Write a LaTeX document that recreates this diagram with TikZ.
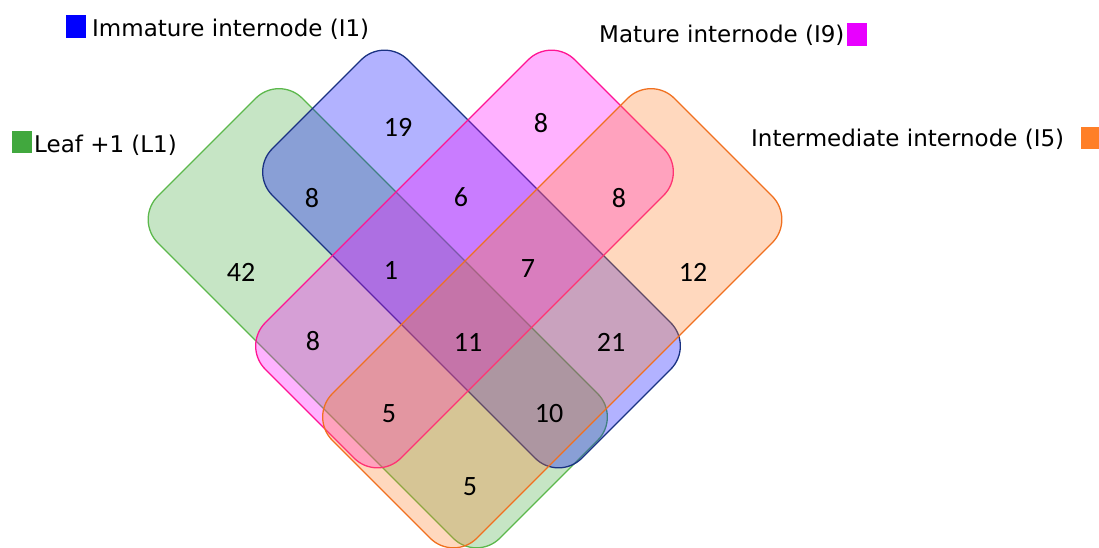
\documentclass[tikz,border=0pt]{standalone}
\usepackage{fontspec}
\setmainfont{DejaVu Sans}
\newfontfamily\numfont{Carlito}
\definecolor{gbase}{RGB}{65,168,62}
\definecolor{gline}{RGB}{92,184,76}
\definecolor{bbase}{RGB}{0,0,255}
\definecolor{bline}{RGB}{26,50,130}
\definecolor{pbase}{RGB}{255,0,255}
\definecolor{pline}{RGB}{255,20,147}
\definecolor{obase}{RGB}{255,127,39}
\definecolor{oline}{RGB}{240,112,32}
\definecolor{gsq}{RGB}{65,168,62}
\definecolor{bsq}{RGB}{0,0,255}
\definecolor{psq}{RGB}{232,0,255}
\definecolor{osq}{RGB}{255,127,39}
\tikzset{
  venn/.style={line width=1.3pt, fill opacity=0.3, draw opacity=1, rounded corners=33pt},
  numlbl/.style={font=\numfont\fontsize{28}{30}\selectfont, text=black, inner sep=0pt},
  leglbl/.style={font=\fontsize{23}{27}\selectfont, text=black, anchor=base west, inner sep=0pt},
}
\begin{document}
\begin{tikzpicture}[x=1pt,y=-1pt]
\useasboundingbox (0,0) rectangle (1099,547);
\begin{scope}[x={(0.5pt,-0.5pt)},y={(0.5pt,0.5pt)}]
  % green L1
  \draw[venn, draw=gline, fill=gbase] (354,-85) -- (1038,-85) -- (1038,204) -- (354,204) -- cycle;
  % blue I1
  \draw[venn, draw=bline, fill=bbase] (421,77) -- (1040,77) -- (1040,348) -- (421,348) -- cycle;
  % pink I9
  \draw[venn, draw=pline, fill=pbase] (588,-104) -- (859,-104) -- (859,515) -- (588,515) -- cycle;
  % orange I5
  \draw[venn, draw=oline, fill=obase] (726,-108) -- (1015,-108) -- (1015,576) -- (726,576) -- cycle;
\end{scope}
% counts
\node[numlbl] (n19) at (398,127) {19};
\node[numlbl] (n8a) at (541,123) {8};
\node[numlbl] (n8b) at (312,198) {8};
\node[numlbl] (n6) at (461,197) {6};
\node[numlbl] (n8c) at (619,198) {8};
\node[numlbl] (n42) at (241,272) {42};
\node[numlbl] (n1) at (391,270) {1};
\node[numlbl] (n7) at (528,269) {7};
\node[numlbl] (n12) at (693,272) {12};
\node[numlbl] (n8d) at (313,341) {8};
\node[numlbl] (n11) at (468,342) {11};
\node[numlbl] (n21) at (611,342) {21};
\node[numlbl] (n5a) at (389,414) {5};
\node[numlbl] (n10) at (549,414) {10};
\node[numlbl] (n5b) at (470,487) {5};
% legend
\fill[bsq] (66,15) rectangle (86,38);
\node[leglbl] (lI1) at (92,36) {Immature internode (I1)};
\fill[gsq] (12,131) rectangle (32,153);
\node[leglbl] (lL1) at (34,152) {Leaf +1 (L1)};
\node[leglbl] (lI9) at (599,42) {Mature internode (I9)};
\fill[psq] (847,23) rectangle (867,46);
\node[leglbl] (lI5) at (751,146) {Intermediate internode (I5)};
\fill[osq] (1081,127) rectangle (1101,149);
\end{tikzpicture}
\end{document}
